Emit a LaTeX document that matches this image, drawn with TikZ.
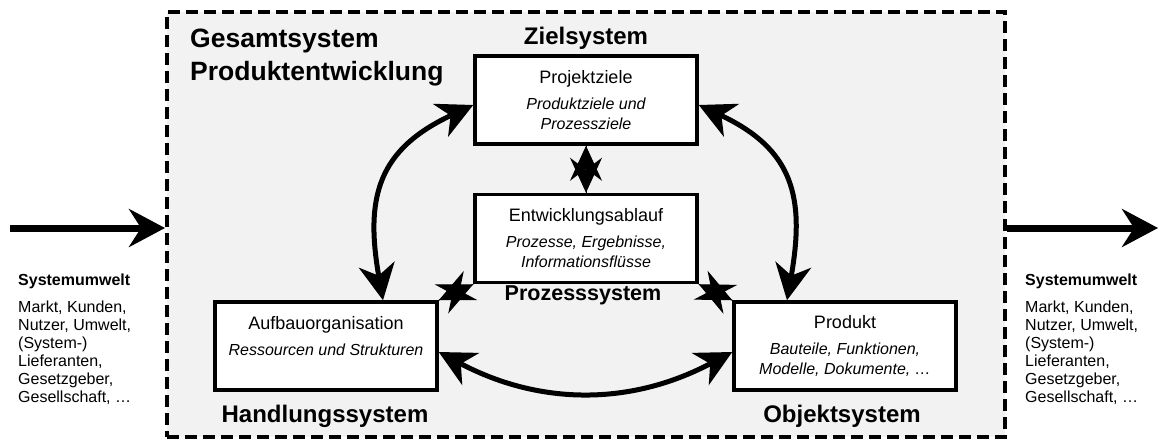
\documentclass[tikz,border=0pt]{standalone}
\usepackage{fontspec}
\setmainfont{Liberation Sans}
\usetikzlibrary{arrows.meta,positioning}
\definecolor{rahmengrau}{RGB}{242,242,242}
\newcommand{\erl}[1]{{\fontsize{16}{17}\selectfont\itshape #1}}
\tikzset{
  rahmen/.style={draw, line width=4pt, dash pattern=on 12pt off 6pt, fill=rahmengrau,
    minimum width=838pt, minimum height=425pt, inner sep=0pt},
  sysbox/.style={draw, line width=3.5pt, fill=white, align=center,
    minimum width=222pt, minimum height=88pt, inner sep=3pt, font=\fontsize{18}{20}\selectfont},
  systitle/.style={font=\fontsize{24}{33}\selectfont\bfseries, align=left, inner sep=0pt},
  umwelt/.style={align=left, inner sep=0pt, font=\fontsize{16}{18}\selectfont},
  bigflow/.style={-{Stealth[length=36pt,width=38pt,inset=12pt]}, line width=7pt},
  biflow/.style={{Stealth[length=36pt,width=36pt,inset=11pt]}-{Stealth[length=36pt,width=36pt,inset=11pt]},
    line width=5pt},
  kopplung/.style={-{Stealth[length=35pt,width=32pt,inset=12pt]}, line width=1pt}
}

\begin{document}
\begin{tikzpicture}[x=1pt, y=1pt, node distance=47pt]
    \useasboundingbox (0,0) rectangle (1161,-441);
    \node[rahmen] (rahmen) at (586,-224.5) {};
    \node[systitle, anchor=north west, font=\fontsize{26.5}{33}\selectfont\bfseries] (gesamt) at (190,-29) {Gesamtsystem\\Produktentwicklung};
    \node[sysbox] (ziele) at (586,-100) {Projektziele\\[6pt]\erl{Produktziele und}\\\erl{Prozessziele}};
    \node[sysbox, below=of ziele] (ablauf) {Entwicklungsablauf\\[6pt]\erl{Prozesse, Ergebnisse,}\\\erl{Informationsflüsse}};
    \node[sysbox] (aufbau) at (326,-346) {Aufbauorganisation\\[6pt]\erl{Ressourcen und Strukturen}\\[0pt]};
    \node[sysbox] (produkt) at (845,-346) {Produkt\\[6pt]\erl{Bauteile, Funktionen,}\\\erl{Modelle, Dokumente, …}};
    \node[systitle, anchor=base] (zielsys) at (586,-45) {Zielsystem};
    \node[systitle, anchor=base, font=\fontsize{21.5}{26}\selectfont\bfseries] (prozesssys) at (583,-300) {Prozesssystem};
    \node[systitle, anchor=base] (handlung) at (325,-422) {Handlungssystem};
    \node[systitle, anchor=base] (objekt) at (842,-422) {Objektsystem};
    % Systemumwelt
    \node[umwelt, anchor=north west] (umweltL) at (18,-274) {\textbf{Systemumwelt}\\[9pt]Markt, Kunden,\\Nutzer, Umwelt,\\(System-)\\Lieferanten,\\Gesetzgeber,\\Gesellschaft, …};
    \node[umwelt, anchor=north west] (umweltR) at (1025,-274) {\textbf{Systemumwelt}\\[9pt]Markt, Kunden,\\Nutzer, Umwelt,\\(System-)\\Lieferanten,\\Gesetzgeber,\\Gesellschaft, …};
    \coordinate (einL) at (10,-228);
    \coordinate (ausR) at (1158,-228);
    \draw[bigflow] (einL) -- (einL -| rahmen.west);
    \draw[bigflow] (ausR -| rahmen.east) -- (ausR);
    % Wechselwirkungen
    \draw[biflow] ([yshift=-5pt]ziele.west) to[out=205, in=100, looseness=1.25] ([xshift=57pt]aufbau.north);
    \draw[biflow] ([yshift=-5pt]ziele.east) to[out=-25, in=80, looseness=1.25] ([xshift=-58pt]produkt.north);
    \draw[biflow] ([yshift=-6pt]aufbau.east) to[out=-28, in=208] ([yshift=-6pt]produkt.west);
    % Kopplungen (Doppelspitzen)
    \draw[kopplung] (ablauf.north) -- (ziele.south);
    \draw[kopplung] (ziele.south) -- (ablauf.north);
    \draw[kopplung] (aufbau.north east) -- (ablauf.south west);
    \draw[kopplung] (ablauf.south west) -- (aufbau.north east);
    \draw[kopplung] (produkt.north west) -- (ablauf.south east);
    \draw[kopplung] (ablauf.south east) -- (produkt.north west);
\end{tikzpicture}
\end{document}
